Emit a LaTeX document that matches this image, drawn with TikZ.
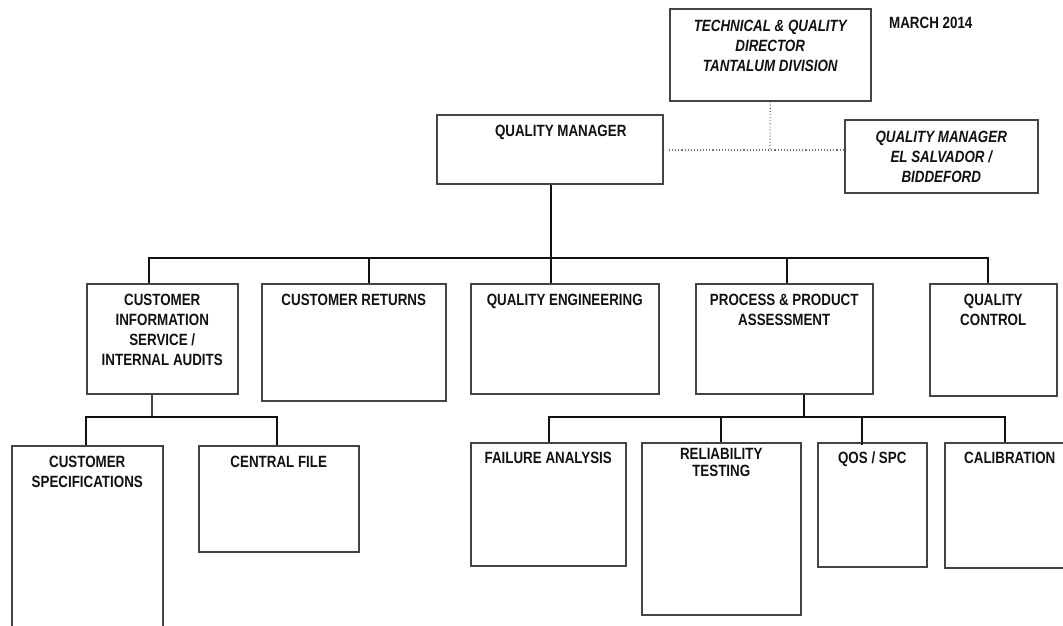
\documentclass[tikz,border=0pt]{standalone}
\usepackage{fontspec}
\setmainfont{Liberation Sans}[FakeStretch=0.82]
\definecolor{boxgray}{HTML}{444444}
\definecolor{connblack}{HTML}{111111}
\definecolor{dotgray}{HTML}{707070}
\newcommand\boxtxt[4]{\parbox[c][#2pt][t]{#1pt}{\fontsize{16.3}{20}\selectfont\bfseries\centering\vspace*{#3pt}#4\par}}
\newcommand\boxtxtit[4]{\parbox[c][#2pt][t]{#1pt}{\fontsize{16.3}{20}\selectfont\bfseries\itshape\centering\vspace*{#3pt}#4\par}}
\begin{document}
\begin{tikzpicture}[x=1pt,y=-1pt,
  orgbox/.style={draw=boxgray, line width=1.5pt, inner sep=0pt, anchor=north west, text=connblack},
  conn/.style={draw=connblack, line width=1.9pt},
  thinconn/.style={draw=boxgray, line width=1.3pt},
  dotline/.style={draw=dotgray, line width=1.1pt, dotted}]
\useasboundingbox (0,0) rectangle (1063,625);
% top level
\node[orgbox] (dir) at (669,8) {\boxtxtit{201}{92}{11}{TECHNICAL \& QUALITY\\DIRECTOR\\TANTALUM DIVISION}};
\node[anchor=west, inner sep=0pt, text=connblack, font=\fontsize{16.3}{20}\selectfont\bfseries] (date) at (889,23) {MARCH 2014};
\node[orgbox] (qm) at (436,114) {\boxtxt{226}{69}{10}{\hspace*{22pt}QUALITY MANAGER}};
\node[orgbox] (els) at (844,119) {\boxtxtit{193}{73}{11}{QUALITY MANAGER\\EL SALVADOR /\\BIDDEFORD}};
% second level
\node[orgbox] (ci) at (86,283) {\boxtxt{151}{110}{10}{CUSTOMER\\INFORMATION\\SERVICE /\\INTERNAL AUDITS}};
\node[orgbox] (cr) at (261,283) {\boxtxt{184}{117}{10}{CUSTOMER RETURNS}};
\node[orgbox] (qe) at (470,283) {\boxtxt{188}{110}{10}{QUALITY ENGINEERING}};
\node[orgbox] (ppa) at (695,283) {\boxtxt{177}{110}{10}{PROCESS \& PRODUCT\\ASSESSMENT}};
\node[orgbox] (qc) at (929,283) {\boxtxt{127}{112}{10}{QUALITY\\CONTROL}};
% third level
\node[orgbox] (cs) at (11,445) {\boxtxt{151}{200}{10}{CUSTOMER\\SPECIFICATIONS}};
\node[orgbox] (cf) at (198,445) {\boxtxt{160}{106}{10}{CENTRAL FILE}};
\node[orgbox] (fa) at (470,442) {\boxtxt{155}{123}{9}{FAILURE ANALYSIS}};
\node[orgbox] (rt) at (641,442) {\parbox[c][172pt][t]{159pt}{\fontsize{16.3}{17}\selectfont\bfseries\centering\vspace*{6pt}RELIABILITY\\TESTING\par}};
\node[orgbox] (qos) at (817,442) {\boxtxt{109}{124}{9}{QOS / SPC}};
\node[orgbox] (cal) at (944,442) {\boxtxt{130}{125}{9}{CALIBRATION}};
% dotted links
\coordinate (dj) at (770,150);
\draw[dotline] (dir.south) -- (dj);
\draw[dotline] (dir.south west |- dj) -- (els.west |- dj);
% main bus
\coordinate (bl) at (149,258);
\coordinate (b2) at (369,258);
\coordinate (bm) at (551,258);
\coordinate (b4) at (787,258);
\coordinate (br) at (988,258);
\draw[conn] (bl |- ci.north) -- (bl) -- (br) -- (br |- qc.north);
\draw[conn] (bm |- qm.south) -- (bm |- qe.north);
\draw[conn] (b2) -- (b2 |- cr.north);
\draw[conn] (b4) -- (b4 |- ppa.north);
% customer information sub-bus
\coordinate (s1) at (152,417);
\coordinate (s1l) at (86,417);
\coordinate (s1r) at (277,417);
\draw[thinconn] (s1 |- ci.south) -- (s1);
\draw[conn] (s1l |- cs.north) -- (s1l) -- (s1r) -- (s1r |- cf.north);
% process sub-bus
\coordinate (s2) at (804,417);
\coordinate (s2a) at (549,417);
\coordinate (s2b) at (721,417);
\coordinate (s2c) at (862,417);
\coordinate (s2d) at (1005,417);
\draw[conn] (s2 |- ppa.south) -- (s2);
\draw[conn] (s2a |- fa.north) -- (s2a) -- (s2d) -- (s2d |- cal.north);
\draw[conn] (s2b) -- (s2b |- rt.north);
\draw[conn] (s2c) -- ([yshift=-3pt]s2c |- qos.north);
\end{tikzpicture}
\end{document}
